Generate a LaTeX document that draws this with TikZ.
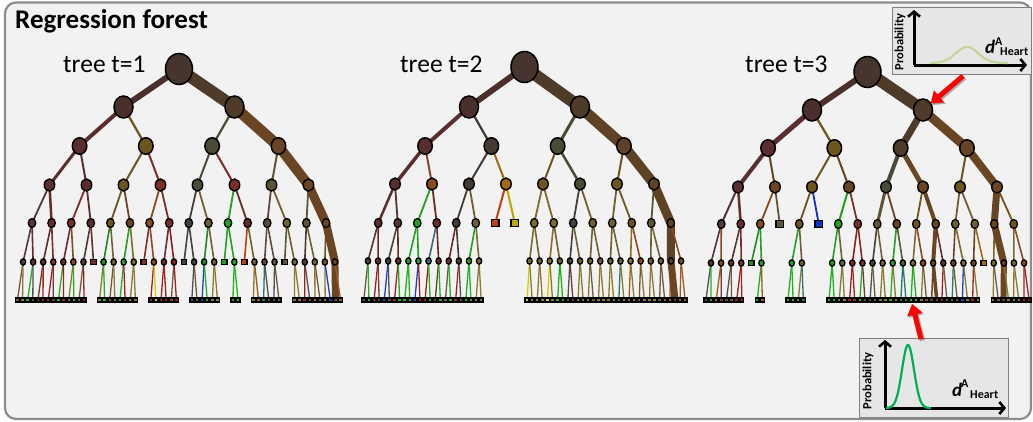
\documentclass[tikz,border=0pt]{standalone}
\usepackage{fontspec}
\setmainfont{Carlito}
\usetikzlibrary{shapes.geometric,arrows.meta}
\pgfdeclarelayer{bg0}
\pgfdeclarelayer{background}
\pgfsetlayers{bg0,background,main}
\definecolor{framefill}{HTML}{F2F2F2}
\definecolor{framedraw}{HTML}{8C8C8C}
\definecolor{insetfill}{HTML}{E6E6E6}
\definecolor{insetdraw}{HTML}{7F7F7F}
\definecolor{curveA}{HTML}{C3D69B}
\definecolor{curveB}{HTML}{00B050}
\definecolor{rt}{HTML}{45352E}
\definecolor{m1}{HTML}{4A2F2D}
\definecolor{b1}{HTML}{4E3B28}
\definecolor{mr}{HTML}{5A2E2E}
\definecolor{m2}{HTML}{553535}
\definecolor{ob}{HTML}{6E5520}
\definecolor{do}{HTML}{4B4A35}
\definecolor{br}{HTML}{6A4524}
\definecolor{b3}{HTML}{5E4226}
\definecolor{rd}{HTML}{7A2E25}
\definecolor{r2}{HTML}{6B2A2A}
\definecolor{dr}{HTML}{8A2020}
\definecolor{or}{HTML}{8A4A1E}
\definecolor{gn}{HTML}{1E8A1E}
\definecolor{gr}{HTML}{22A022}
\definecolor{ol}{HTML}{6E6030}
\definecolor{o2}{HTML}{7A6A30}
\definecolor{o3}{HTML}{8A7020}
\definecolor{gy}{HTML}{454040}
\definecolor{g2}{HTML}{453A33}
\definecolor{dg}{HTML}{5E5535}
\definecolor{b2}{HTML}{5A4A40}
\definecolor{oR}{HTML}{C04010}
\definecolor{ye}{HTML}{B8A800}
\definecolor{bl}{HTML}{1030C0}
\definecolor{tl}{HTML}{3A6A7A}
\definecolor{gd}{HTML}{A06A10}
\definecolor{la}{HTML}{6E5A3A}
\definecolor{lo}{HTML}{8A7A30}
\definecolor{lg}{HTML}{20B020}
\definecolor{lr}{HTML}{A02020}
\definecolor{ly}{HTML}{D0D000}
\definecolor{lb}{HTML}{2040C0}
\definecolor{lk}{HTML}{505050}
\definecolor{lt}{HTML}{207A6A}
\definecolor{ln}{HTML}{A05A20}
\definecolor{lm}{HTML}{6B3A30}

% #1 tree, #2 level, #3 y, #4 spacing, #5 centre x, #6 list type/colour/edge width
\newcommand\tlevel[6]{%
  \pgfmathtruncatemacro\nn{2^#2}%
  \pgfmathtruncatemacro\pl{#2-1}%
  \foreach \ty/\co/\w [count=\i from 0] in {#6}{%
    \pgfmathsetmacro\xx{#5+(\i-(\nn-1)/2)*#4}%
    \ifdim\w pt>0pt
      \node[L#2,\ty,fill=\co] (t#1-#2-\i) at (\xx,#3) {};
    \fi
  }%
  \begin{pgfonlayer}{background}
  \foreach \ty/\co/\w [count=\i from 0] in {#6}{%
    \pgfmathtruncatemacro\pp{floor(\i/2)}%
    \ifdim\w pt>0pt
      \draw[e#2, line width=\w pt, draw=\co] (t#1-\pl-\pp.center) -- (t#1-#2-\i.center);
    \fi
  }%
  \end{pgfonlayer}%
}

\begin{document}
\begin{tikzpicture}[x=1pt,y=-1pt,
  nd/.style={draw=black, inner sep=0pt, outer sep=0pt},
  L0/.style={nd, line width=1.5pt, minimum width=27pt, minimum height=31pt},
  L1/.style={nd, line width=1.5pt, minimum width=19pt, minimum height=22pt},
  L2/.style={nd, line width=1.5pt, minimum width=14.5pt, minimum height=16.5pt},
  L3/.style={nd, line width=1.4pt, minimum width=10.5pt, minimum height=12pt},
  L4/.style={nd, line width=1.3pt, minimum width=7.5pt, minimum height=9pt},
  L5/.style={nd, line width=1.3pt, minimum width=5.3pt, minimum height=6.3pt},
  L6/.style={nd, line width=1.4pt, minimum width=3.8pt, minimum height=3.8pt},
  nc/.style={ellipse},
  ns4/.style={rectangle, minimum width=7.5pt, minimum height=7.5pt},
  ns5/.style={rectangle, minimum width=5.5pt, minimum height=5.5pt},
  nf/.style={rectangle},
  e1/.style={line cap=round}, e2/.style={line cap=round}, e3/.style={line cap=round},
  e4/.style={line cap=round}, e5/.style={line cap=round}, e6/.style={line cap=butt},
  lab/.style={anchor=base west, inner sep=0pt, font=\fontsize{25.5}{30}\selectfont},
  axis/.style={line width=3pt, -{Straight Barb[length=5pt,width=12pt,line width=2.6pt]}},
  redarr/.style={line width=5pt, draw=red, -{Triangle[length=11pt,width=15pt]}},
  redsh/.style={line width=5pt, draw=black, opacity=0.3, -{Triangle[length=11pt,width=15pt]}},
  inset/.style={draw=insetdraw, fill=insetfill, line width=1pt, inner sep=0pt, anchor=north west},
  prob/.style={rotate=90, inner sep=0pt, font=\fontsize{12.5}{14}\selectfont\bfseries},
  dd/.style={anchor=base west, inner sep=0pt, font=\fontsize{19}{20}\selectfont\bfseries\itshape},
  sup/.style={anchor=base west, inner sep=0pt, font=\fontsize{12}{13}\selectfont\bfseries},
]
\useasboundingbox (0,0) rectangle (1033,421);
\begin{pgfonlayer}{bg0}
  \draw[rounded corners=11pt, line width=2.2pt, draw=framedraw, fill=framefill] (5,2.5) rectangle (1031,419);
\end{pgfonlayer}

\node[lab, font=\fontsize{27}{32}\selectfont\bfseries] (title) at (15,28) {Regression forest};
\node[lab] (lab1) at (63,72) {tree t=1};
\node[lab] (lab2) at (400,72) {tree t=2};
\node[lab] (lab3) at (745,72) {tree t=3};

% ---------------- tree 1
\node[L0,nc,fill=rt] (t1-0-0) at (179,69) {};
\tlevel{1}{1}{107}{111}{179}{nc/m1/6, nc/b1/12}
\tlevel{1}{2}{146}{66.3}{179}{nc/mr/4, nc/ob/2.2, nc/do/2.2, nc/br/11}
\tlevel{1}{3}{185}{37}{179}{nc/mr/3, nc/mr/2, nc/ob/2, nc/rd/2, nc/do/2, nc/rd/2, nc/dg/2, nc/br/10}
\tlevel{1}{4}{223}{19.6}{179}{nc/m2/1.8, nc/r2/2.5, nc/rd/1.8, nc/mr/1.8, nc/ob/1.8, nc/br/1.8, nc/or/1.8, nc/rd/1.8, nc/gy/1.8, nc/ol/1.8, nc/gr/1.8, nc/r2/1.8, nc/b2/1.8, nc/ol/1.8, nc/dg/1.8, nc/br/9}
\tlevel{1}{5}{262}{10.06}{179}{nc/m2/1.6, nc/r2/1.6, nc/mr/1.6, nc/rd/1.6, nc/r2/1.6, nc/or/1.6, nc/m2/1.6, ns5/r2/1.6, nc/gn/1.6, nc/ol/1.6, nc/gr/1.6, nc/o2/1.6, ns5/rd/1.6, nc/or/1.6, nc/r2/1.6, nc/dr/1.6, ns5/gy/1.6, nc/gy/1.6, nc/gn/1.6, nc/ol/1.6, ns5/gr/1.6, nc/gr/1.6, ns5/oR/1.6, nc/ol/1.6, nc/b2/1.6, nc/b2/1.6, ns5/dg/1.6, nc/ol/1.6, nc/m2/1.6, nc/ol/1.6, nc/ob/1.6, nc/br/8}
\tlevel{1}{6}{300}{5.13}{179}{nf/la/1.3, nf/lo/1.3, nf/lg/1.3, nf/lk/1.3, nf/lm/1.3, nf/lr/1.3, nf/lr/1.3, nf/lm/1.3, nf/lg/1.3, nf/lr/1.3, nf/lo/1.3, nf/lg/1.3, nf/la/1.3, nf/lr/1.3, nf/lk/0, nf/lk/0,
 nf/lo/1.3, nf/lg/1.3, nf/la/1.3, nf/lo/1.3, nf/lg/1.3, nf/lr/1.3, nf/lo/1.3, nf/lo/1.3, nf/lk/0, nf/lk/0, nf/lr/1.3, nf/ly/1.3, nf/lr/1.3, nf/lr/1.3, nf/la/1.3, nf/lr/1.3,
 nf/lk/0, nf/lk/0, nf/lk/1.3, nf/la/1.3, nf/lb/1.3, nf/lg/1.3, nf/lo/1.3, nf/lo/1.3, nf/lk/0, nf/lk/0, nf/lg/1.3, nf/lg/1.3, nf/lk/0, nf/lk/0, nf/lo/1.3, nf/ln/1.3,
 nf/lt/1.3, nf/lk/1.3, nf/lk/1.3, nf/la/1.3, nf/lk/0, nf/lk/0, nf/lo/1.3, nf/lo/1.3, nf/lr/1.3, nf/lk/1.3, nf/lo/1.3, nf/la/1.3, nf/lo/1.3, nf/lb/1.3, nf/br/7, nf/ln/1.3}

% ---------------- tree 2
\node[L0,nc,fill=rt] (t2-0-0) at (524.5,67) {};
\tlevel{2}{1}{107}{111}{524.5}{nc/m1/6, nc/b1/12}
\tlevel{2}{2}{146}{66.3}{524.5}{nc/mr/4, nc/g2/2.2, nc/do/3, nc/b3/11}
\tlevel{2}{3}{184}{37}{524.5}{nc/mr/3.5, nc/or/2, nc/g2/2, nc/gd/2, nc/ob/2, nc/do/2.5, nc/ob/2, nc/b3/10}
\tlevel{2}{4}{223}{19.5}{524.5}{nc/mr/2.5, nc/m2/1.8, nc/gr/1.8, nc/r2/1.8, nc/g2/1.8, nc/ol/1.8, ns4/oR/2, ns4/ye/2, nc/o2/1.8, nc/o2/1.8, nc/gy/1.8, nc/ol/1.8, nc/ol/1.8, nc/ob/1.8, nc/dg/1.8, nc/b3/9}
\tlevel{2}{5}{261}{10.1}{524.5}{nc/m2/1.6, nc/r2/1.6, nc/gy/1.6, nc/r2/1.6, nc/gr/1.6, nc/gr/1.6, nc/tl/1.6, nc/r2/1.6, nc/r2/1.6, nc/g2/1.6, nc/gr/1.6, nc/o2/1.6, nc/gy/0, nc/gy/0, nc/gy/0, nc/gy/0, nc/o2/1.6, nc/ol/1.6, nc/o3/1.6, nc/ol/1.6, nc/gy/1.6, nc/ol/1.6, nc/ol/1.6, nc/ol/1.6, nc/ol/1.6, nc/ol/1.6, nc/o3/1.6, nc/or/1.6, nc/ol/1.6, nc/ol/1.6, nc/b3/8, nc/or/1.6}
\tlevel{2}{6}{300}{5.1}{524.5}{nf/la/1.3, nf/lg/1.3, nf/lr/1.3, nf/lm/1.3, nf/lb/1.3, nf/lk/1.3, nf/lr/1.3, nf/lg/1.3, nf/lg/1.3, nf/lg/1.3, nf/lb/1.3, nf/lr/1.3, nf/lr/1.3, nf/lg/1.3, nf/lm/1.3, nf/lg/1.3,
 nf/la/1.3, nf/lg/1.3, nf/lr/1.3, nf/lk/1.3, nf/lg/1.3, nf/lg/1.3, nf/lo/1.3, nf/lo/1.3, nf/lk/0, nf/lk/0, nf/lk/0, nf/lk/0, nf/lk/0, nf/lk/0, nf/lk/0, nf/lk/0,
 nf/ly/1.3, nf/lo/1.3, nf/lo/1.3, nf/lo/1.3, nf/ly/1.3, nf/lo/1.3, nf/lg/1.3, nf/lg/1.3, nf/lk/1.3, nf/lm/1.3, nf/lo/1.3, nf/lo/1.3, nf/lo/1.3, nf/la/1.3, nf/lo/1.3, nf/lo/1.3,
 nf/lo/1.3, nf/lo/1.3, nf/lt/1.3, nf/lo/1.3, nf/ln/1.3, nf/lo/1.3, nf/la/1.3, nf/lo/1.3, nf/lo/1.3, nf/lo/1.3, nf/la/1.3, nf/la/1.3, nf/ln/1.3, nf/br/7, nf/ln/1.3, nf/ln/1.3}

% ---------------- tree 3
\node[L0,nc,fill=rt] (t3-0-0) at (867.5,72) {};
\tlevel{3}{1}{110}{111}{867.5}{nc/m1/6, nc/b1/12}
\tlevel{3}{2}{148}{66.3}{867.5}{nc/mr/5, nc/ob/2.2, nc/b1/7, nc/br/9}
\tlevel{3}{3}{187}{37}{867.5}{nc/mr/4, nc/br/2, nc/ob/2, nc/br/2, nc/do/4, nc/br/5, nc/ob/2, nc/br/8}
\tlevel{3}{4}{224}{19.5}{867.5}{nc/m2/2, nc/r2/2.5, nc/or/1.8, ns4/dg/1.8, nc/ob/1.8, ns4/bl/1.8, nc/gr/2, nc/rd/1.8, nc/dg/3, nc/br/1.8, nc/ob/1.8, nc/br/4, nc/ol/1.8, nc/ol/1.8, nc/br/7, nc/ob/1.8}
\tlevel{3}{5}{263}{10.1}{867.5}{nc/m2/1.6, nc/or/1.6, nc/m2/1.6, nc/rd/1.6, ns5/gn/1.6, nc/gr/1.6, nc/gy/0, nc/gy/0, nc/gr/1.6, nc/ol/1.6, nc/gy/0, nc/gy/0, nc/gr/1.6, nc/ol/1.6, nc/dr/1.6, nc/rd/1.6, nc/gy/1.6, nc/ol/1.6, nc/gr/1.6, nc/dg/1.6, nc/o2/1.6, nc/or/1.6, nc/br/4, nc/r2/1.6, nc/br/1.6, nc/o2/1.6, nc/br/1.6, ns5/gd/1.6, nc/o2/1.6, nc/br/7, nc/o2/1.6, nc/or/1.6}
\tlevel{3}{6}{300}{5.13}{867.5}{nf/lk/1.3, nf/lg/1.3, nf/ln/1.3, nf/lm/1.3, nf/lk/1.3, nf/la/1.3, nf/lr/1.3, nf/lr/1.3, nf/lk/0, nf/lk/0, nf/lg/1.3, nf/ln/1.3, nf/lk/0, nf/lk/0, nf/lk/0, nf/lk/0,
 nf/lg/1.3, nf/lg/1.3, nf/lo/1.3, nf/lt/1.3, nf/lk/0, nf/lk/0, nf/lk/0, nf/lk/0, nf/lg/1.3, nf/lg/1.3, nf/lo/1.3, nf/lo/1.3, nf/lr/1.3, nf/lr/1.3, nf/lg/1.3, nf/lm/1.3,
 nf/lk/1.3, nf/la/1.3, nf/lo/1.3, nf/lo/1.3, nf/lg/1.3, nf/lo/1.3, nf/lt/1.3, nf/lt/1.3, nf/lg/1.3, nf/lg/1.3, nf/lo/1.3, nf/la/1.3, nf/br/1.5, nf/br/3.5, nf/lr/1.3, nf/la/1.3,
 nf/lt/1.3, nf/la/1.3, nf/lb/1.3, nf/lo/1.3, nf/lr/1.3, nf/lo/1.3, nf/lk/0, nf/lk/0, nf/lo/1.3, nf/la/1.3, nf/br/6, nf/lo/1.3, nf/lo/1.3, nf/lo/1.3, nf/lr/1.3, nf/lr/1.3}

% ---------------- top inset
\node[inset, minimum width=139pt, minimum height=67pt] (inA) at (892,7) {};
\coordinate (oA) at (914,65);
\draw[axis] (oA) -- (914,10);
\draw[axis] (oA) -- (1027,65);
\draw[curveA, line width=2.2pt] plot[domain=930:1008, samples=60] (\x, {63-16*exp(-((\x-967)/16)^2)});
\node[prob] (pA) at (900,42) {Probability};
\node[dd] (dA) at (985,53) {d};
\node[sup] (sA) at (995,45) {A};
\node[sup] (hA) at (1000,55) {Heart};

% ---------------- bottom inset
\node[inset, minimum width=149pt, minimum height=79pt] (inB) at (859,338) {};
\coordinate (oB) at (885,408);
\draw[axis] (oB) -- (885,340);
\draw[axis] (oB) -- (1006,408);
\draw[curveB, line width=2.2pt] plot[domain=886:931, samples=70] (\x, {408-63*exp(-((\x-908)/8.5)^2)});
\node[prob] (pB) at (868,381) {Probability};
\node[dd] (dB) at (952,396) {d};
\node[sup] (sB) at (961,387) {A};
\node[sup] (hB) at (970,398) {Heart};

% ---------------- red arrows
\coordinate (raT) at (963,76);
\coordinate (raB) at (921,339);
\draw[redsh, transform canvas={shift={(1.5pt,-1.5pt)}}] (raT) -- (t3-1-1);
\draw[redarr] (raT) -- (t3-1-1);
\draw[redsh, shorten >=2pt, transform canvas={shift={(1.5pt,-1.5pt)}}] (raB) -- (t3-6-40);
\draw[redarr, shorten >=2pt] (raB) -- (t3-6-40);
\end{tikzpicture}
\end{document}
